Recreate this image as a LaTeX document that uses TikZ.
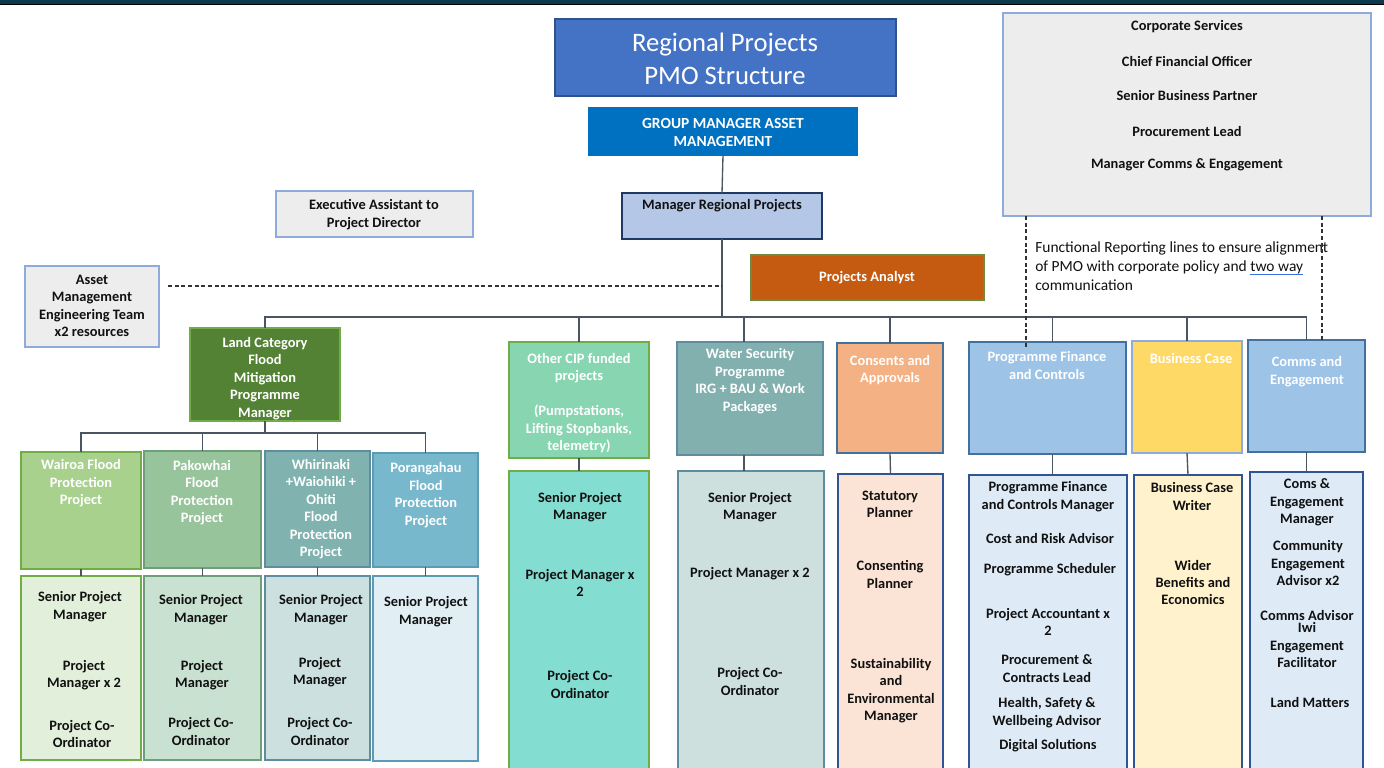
\documentclass[tikz,border=0pt]{standalone}
\usepackage{fontspec}
\usepackage{calc}
\setmainfont{Carlito}
\definecolor{band}{HTML}{0B3A4F}
\definecolor{titlec}{HTML}{4472C4}
\definecolor{titleb}{HTML}{2F528F}
\definecolor{gmc}{HTML}{0070C0}
\definecolor{greyf}{HTML}{EDEDED}
\definecolor{lbb}{HTML}{8FAADC}
\definecolor{mgrf}{HTML}{B4C7E7}
\definecolor{navy}{HTML}{1F3864}
\definecolor{analf}{HTML}{C55A11}
\definecolor{analb}{HTML}{6E8B3D}
\definecolor{landf}{HTML}{548235}
\definecolor{greenb}{HTML}{70AD47}
\definecolor{cipf}{HTML}{88D5B2}
\definecolor{cips}{HTML}{84DDD1}
\definecolor{waterf}{HTML}{82B0AF}
\definecolor{waterb}{HTML}{5E8CA0}
\definecolor{waters}{HTML}{CDE0DE}
\definecolor{consf}{HTML}{F4B183}
\definecolor{conss}{HTML}{FBE4D5}
\definecolor{bb}{HTML}{41719C}
\definecolor{darkb}{HTML}{2F5597}
\definecolor{pff}{HTML}{9DC3E6}
\definecolor{pfs}{HTML}{DEEBF7}
\definecolor{busf}{HTML}{FFD966}
\definecolor{buss}{HTML}{FFF2CC}
\definecolor{waif}{HTML}{A9D18E}
\definecolor{wais}{HTML}{E2EFDA}
\definecolor{pakf}{HTML}{98C49C}
\definecolor{pakb}{HTML}{6F9F7A}
\definecolor{paks}{HTML}{C9E1D0}
\definecolor{whif}{HTML}{80B2AF}
\definecolor{whis}{HTML}{CCE0DF}
\definecolor{porf}{HTML}{78B8CD}
\definecolor{porb}{HTML}{5B9BB5}
\definecolor{pors}{HTML}{E1EEF4}
\definecolor{connc}{HTML}{4A5564}
\definecolor{txt}{HTML}{111111}
\definecolor{ulblue}{HTML}{3A6FE8}
\newcommand{\bx}[6]{\node[box,#6,anchor=north west,minimum width={(#4-#2)*0.75pt},minimum height={(#5-#3)*0.75pt}] (#1) at (#2,#3) {};}
\newcommand{\blueul}[1]{\makebox[0pt][l]{\textcolor{ulblue}{\rule[-2.4pt]{\widthof{#1}}{0.75pt}}}#1}
\begin{document}
\begin{tikzpicture}[x=0.75pt,y=-0.75pt,
  box/.style={draw,line width=0.9pt,inner sep=0pt,outer sep=0pt,rectangle},
  hd/.style={font=\bfseries\fontsize{10.8}{13.1}\selectfont,text=white,align=center,inner sep=0pt},
  st/.style={font=\bfseries\fontsize{10.8}{13.1}\selectfont,text=txt,align=center,inner sep=0pt},
  conn/.style={draw=connc,line width=1pt},
  dline/.style={draw=black!80,line width=0.8pt,dash pattern=on 3pt off 2pt}]
\clip (0,0) rectangle (1384,767);
\fill[white] (0,0) rectangle (1384,767);
\fill[band] (0,0) rectangle (1384,4);
\draw[black,line width=0.8pt] (0,4.6) -- (1384,4.6);

% top boxes
\bx{title}{555}{19}{896}{96}{fill=titlec,draw=titleb}
\node[font=\fontsize{20}{24.75}\selectfont,text=white,align=center,inner sep=0pt] (titletxt) at (725,58.5) {Regional Projects\\PMO Structure};
\bx{gm}{589}{108}{857}{155}{fill=gmc,draw=gmc}
\node[hd,font=\bfseries\fontsize{11.6}{13.5}\selectfont] (gmtxt) at (723,132) {GROUP MANAGER ASSET\\MANAGEMENT};
\bx{corp}{1003}{13}{1371}{216}{fill=greyf,draw=lbb}
\node[st] (c1) at (1187,27) {Corporate Services};
\node[st] (c2) at (1187,61) {Chief Financial Officer};
\node[st] (c3) at (1187,96) {Senior Business Partner};
\node[st] (c4) at (1187,131) {Procurement Lead};
\node[st] (c5) at (1187,165) {Manager Comms \& Engagement};
\bx{exec}{276}{191}{473}{237}{fill=greyf,draw=lbb}
\node[st] (exectxt) at (374,214.5) {Executive Assistant to\\Project Director};
\bx{mgr}{622}{193}{822}{239}{fill=mgrf,draw=navy}
\node[st] (mgrtxt) at (722,206) {Manager Regional Projects};
\bx{anal}{751}{255}{984}{300}{fill=analf,draw=analb}
\node[hd] (analtxt) at (867,278) {Projects Analyst};
\bx{asset}{25}{266}{159}{347}{fill=greyf,draw=lbb}
\node[st] (assettxt) at (92,306) {Asset\\Management\\Engineering Team\\x2 resources};
\node[font=\fontsize{11.6}{14.25}\selectfont,text=txt,align=left,inner sep=0pt,anchor=west] (func) at (1035,266) {Functional Reporting lines to ensure alignment\\of PMO with corporate policy and \blueul{two way}\\communication};

% header row
\bx{landcat}{190}{328}{340}{421}{fill=landf,draw=greenb}
\node[hd] (landtxt) at (265,378.5) {Land Category\\Flood\\Mitigation\\Programme\\Manager};
\bx{cip}{509}{342}{649}{458}{fill=cipf,draw=greenb}
\node[hd] (ciptxt) at (579,403) {Other CIP funded\\projects\\[13.1pt](Pumpstations,\\Lifting Stopbanks,\\telemetry)};
\bx{water}{677}{342}{823}{455}{fill=waterf,draw=waterb}
\node[hd] (watertxt) at (750,381) {Water Security\\Programme\\IRG + BAU \& Work\\Packages};
\bx{cons}{837}{343}{943}{453}{fill=consf,draw=bb}
\node[hd] (constxt) at (890,370) {Consents and\\Approvals};
\bx{pf}{969}{342}{1126}{454}{fill=pff,draw=bb}
\node[hd] (pftxt) at (1047,365.5) {Programme Finance\\and Controls};
\bx{bus}{1132}{341}{1242}{453}{fill=busf,draw=lbb}
\node[hd] (bustxt) at (1191,358) {Business Case};
\bx{comms}{1248}{340}{1365}{452}{fill=pff,draw=bb}
\node[hd] (commstxt) at (1307,371.5) {Comms and\\Engagement};

% project row
\bx{wai}{21}{452}{141}{569}{fill=waif,draw=greenb}
\node[hd] (waitxt) at (81,483.5) {Wairoa Flood\\Protection\\Project};
\bx{pak}{144}{451}{261}{568}{fill=pakf,draw=pakb}
\node[hd] (paktxt) at (202,492.5) {Pakowhai\\Flood\\Protection\\Project};
\bx{whi}{265}{451}{370}{567}{fill=whif,draw=waterb}
\node[hd] (whitxt) at (321,509) {Whirinaki\\+Waiohiki +\\Ohiti\\Flood\\Protection\\Project};
\bx{por}{373}{453}{478}{567}{fill=porf,draw=porb}
\node[hd] (portxt) at (426,495) {Porangahau\\Flood\\Protection\\Project};

% staff boxes
\bx{wais}{21}{576}{141}{760}{fill=wais,draw=greenb}
\node[st] (wa1) at (80,606.5) {Senior Project\\Manager};
\node[st] (wa2) at (84,675) {Project\\Manager x 2};
\node[st] (wa3) at (82,734) {Project Co-\\Ordinator};
\bx{paks}{144}{576}{261}{760}{fill=paks,draw=pakb}
\node[st] (pa1) at (201,609.5) {Senior Project\\Manager};
\node[st] (pa2) at (202,675) {Project\\Manager};
\node[st] (pa3) at (201,731.5) {Project Co-\\Ordinator};
\bx{whis}{265}{576}{370}{760}{fill=whis,draw=waterb}
\node[st] (wh1) at (321,609.5) {Senior Project\\Manager};
\node[st] (wh2) at (320,672) {Project\\Manager};
\node[st] (wh3) at (320,731.5) {Project Co-\\Ordinator};
\bx{pors}{373}{576}{478}{761}{fill=pors,draw=porb}
\node[st] (po1) at (426,611.5) {Senior Project\\Manager};

\bx{cips}{509}{471}{649}{800}{fill=cips,draw=greenb}
\node[st] (ci1) at (580,507) {Senior Project\\Manager};
\node[st] (ci2) at (580,583) {Project Manager x\\2};
\node[st] (ci3) at (580,684.5) {Project Co-\\Ordinator};
\bx{waters}{678}{471}{824}{800}{fill=waters,draw=waterb}
\node[st] (wt1) at (750,507) {Senior Project\\Manager};
\node[st] (wt2) at (750,574) {Project Manager x 2};
\node[st] (wt3) at (750,681.5) {Project Co-\\Ordinator};
\bx{conss}{838}{474}{943}{800}{fill=conss,draw=darkb}
\node[st] (cs1) at (890,504.5) {Statutory\\Planner};
\node[st] (cs2) at (890,574.5) {Consenting\\Planner};
\node[st] (cs3) at (891,690.5) {Sustainability\\and\\Environmental\\Manager};
\bx{pfs}{969}{475}{1127}{800}{fill=pfs,draw=darkb}
\node[st] (pf1) at (1048,496.5) {Programme Finance\\and Controls Manager};
\node[st] (pf2) at (1050,538) {Cost and Risk Advisor};
\node[st] (pf3) at (1050,570) {Programme Scheduler};
\node[st] (pf4) at (1048,622) {Project Accountant x\\2};
\node[st] (pf5) at (1047,668.5) {Procurement \&\\Contracts Lead};
\node[st] (pf6) at (1047,712.5) {Health, Safety \&\\Wellbeing Advisor};
\node[st] (pf7) at (1048,746) {Digital Solutions};
\bx{buss}{1134}{475}{1242}{800}{fill=buss,draw=darkb}
\node[st] (bs1) at (1192,496.5) {Business Case\\Writer};
\node[st] (bs2) at (1193,582.5) {Wider\\Benefits and\\Economics};
\bx{comss}{1250}{472}{1363}{800}{fill=pfs,draw=darkb}
\node[st] (co1) at (1307,502.5) {Coms \&\\Engagement\\Manager};
\node[st] (co2) at (1308,563) {Community\\Engagement\\Advisor x2};
\node[st] (co3) at (1307,639) {Comms Advisor\\[-3.5pt]Iwi\\Engagement\\Facilitator};
\node[st] (co4) at (1310,702) {Land Matters};

% connectors
\coordinate (busy) at (0,317);
\coordinate (subbus) at (0,433);
\draw[conn] (gm.south) -- (mgr.north);
\draw[conn] (mgr.south) -- (mgr.south |- busy);
\draw[conn] (landcat.north) -- (landcat.north |- busy) -- (comms.north |- busy) -- (comms.north);
\draw[conn] (cip.north) -- (cip.north |- busy);
\draw[conn] ([xshift=-4.5pt]water.north) -- ([xshift=-4.5pt]water.north |- busy);
\draw[conn] (cons.north) -- (cons.north |- busy);
\draw[conn] ([xshift=3.75pt]pf.north) -- ([xshift=3.75pt]pf.north |- busy);
\draw[conn] (bus.north) -- (bus.north |- busy);
\draw[conn] (landcat.south) -- (landcat.south |- subbus);
\draw[conn] (wai.north) -- (wai.north |- subbus) -- (por.north |- subbus) -- (por.north);
\draw[conn] (pak.north) -- (pak.north |- subbus);
\draw[conn] (whi.north) -- (whi.north |- subbus);
\draw[conn] (wai.south) -- (wais.north);
\draw[conn] (pak.south) -- (paks.north);
\draw[conn] (whi.south) -- (whis.north);
\draw[conn] (por.south) -- (pors.north);
\draw[conn] (cip.south) -- (cips.north);
\draw[conn] ([xshift=-4.5pt]water.south) -- ([xshift=-4.5pt]water.south |- waters.north);
\draw[conn] (cons.south) -- (conss.north);
\draw[conn] ([xshift=3.75pt]pf.south) -- ([xshift=3.75pt]pf.south |- pfs.north);
\draw[conn] (bus.south) -- (buss.north);
\draw[conn] (comms.south) -- (comss.north);
% dashed lines
\coordinate (dashL) at (168,286);
\draw[dline] (dashL) -- (mgr.south |- dashL);
\coordinate (fl) at (1026,348);
\coordinate (fr) at (1322,342);
\draw[dline] (fl |- corp.south) -- (fl);
\draw[dline] (fr |- corp.south) -- (fr);
\end{tikzpicture}
\end{document}
